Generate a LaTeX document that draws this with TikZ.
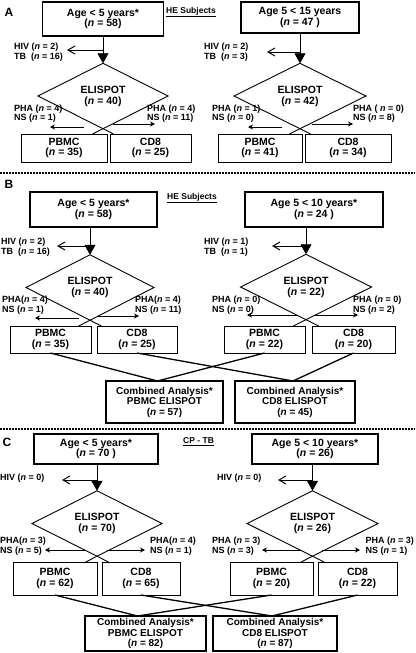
\documentclass[tikz,border=0pt]{standalone}
\usepackage{fontspec}
\setmainfont{Liberation Sans}
\usetikzlibrary{arrows.meta,shapes.geometric,calc}
\begin{document}
\begin{tikzpicture}[x=1pt,y=-1pt,
  agebox/.style={draw, line width=1.6pt, inner sep=0pt, outer sep=0pt, align=center, font=\bfseries\fontsize{10.5}{10.5}\selectfont},
  cellbox/.style={draw, line width=1pt, inner sep=0pt, outer sep=0pt, align=center, font=\bfseries\fontsize{10.5}{10.5}\selectfont},
  combox/.style={draw, line width=1.6pt, inner sep=0pt, outer sep=0pt, align=center, font=\bfseries\fontsize{10}{10.5}\selectfont},
  elis/.style={diamond, draw, line width=0.9pt, inner sep=0pt, outer sep=0pt, align=center, font=\bfseries\fontsize{10.5}{11}\selectfont},
  lab/.style={inner sep=0pt, align=left, anchor=west, font=\bfseries\fontsize{9}{9.5}\selectfont},
  flow/.style={line width=0.9pt, -{Triangle[length=10pt,width=11pt]}},
  excl/.style={line width=1pt, -{Straight Barb[length=7pt,width=8pt]}},
  splitline/.style={line width=0.9pt},
  sidearrow/.style={line width=0.8pt, -{Stealth[length=5pt,width=5pt]}},
  mergeline/.style={line width=1.3pt},
  dotsep/.style={line width=1.4pt, dash pattern=on 1.5pt off 1.5pt},
  panellabel/.style={inner sep=0pt, font=\bfseries\fontsize{12}{12}\selectfont},
  grouplabel/.style={inner sep=0pt, anchor=west, font=\bfseries\fontsize{8.5}{8.5}\selectfont}
]
\fill[white] (0,0) rectangle (415,653);
\useasboundingbox (0,0) rectangle (415,653);

% ---------------- Panel A ----------------
\node[panellabel] (pA) at (9,12) {A};
\node[grouplabel] (gA) at (166,12) {\underline{HE Subjects}};
\node[agebox, minimum width=121pt, minimum height=34pt] (ageA1) at (103,19) {Age < 5 years*\\(\textit{n} = 58)};
\node[agebox, minimum width=118pt, minimum height=31pt] (ageA2) at (300,17.5) {Age 5 < 15 years\\(\textit{n} = 47 )};
\node[elis, minimum width=130pt, minimum height=48pt] (dA1) at (103,96) {ELISPOT\\(\textit{n} = 40)};
\node[elis, minimum width=132pt, minimum height=48pt] (dA2) at (300,96) {ELISPOT\\(\textit{n} = 42)};
\node[cellbox, minimum width=86pt, minimum height=28pt] (pbA1) at (64,148) {PBMC\\(\textit{n} = 35)};
\node[cellbox, minimum width=81pt, minimum height=28pt] (cdA1) at (150.5,148) {CD8\\(\textit{n} = 25)};
\node[cellbox, minimum width=84pt, minimum height=28pt] (pbA2) at (260,148) {PBMC\\(\textit{n} = 41)};
\node[cellbox, minimum width=86pt, minimum height=28pt] (cdA2) at (348,148) {CD8\\(\textit{n} = 34)};

\node[lab] (hivA1) at (14,52) {HIV (\textit{n} = 2)\\TB\ \ (\textit{n} = 16)};
\node[lab] (hivA2) at (204,52) {HIV (\textit{n} = 2)\\TB\ \ (\textit{n} = 3)};
\node[lab] (phaA1l) at (14,113.5) {PHA (\textit{n} = 4)\\NS (\textit{n} = 1)};
\node[lab] (phaA1r) at (147,113.5) {PHA (\textit{n} = 4)\\NS (\textit{n} = 11)};
\node[lab] (phaA2l) at (212,113.5) {PHA (\textit{n} = 1)\\NS (\textit{n} = 0)};
\node[lab] (phaA2r) at (353,113.5) {PHA ( \textit{n} = 0)\\NS (\textit{n} = 8)};

\draw[flow] (ageA1.south) -- (dA1.north);
\draw[flow] (ageA2.south) -- (dA2.north);
\coordinate (xA1) at (67,50);
\coordinate (xA2) at (267,52);
\draw[excl] (xA1 -| ageA1.south) -- (xA1);
\draw[excl] (xA2 -| ageA2.south) -- (xA2);
\draw[splitline] (dA1.south) -- (intersection of dA1.west--dA1.south and cdA1.north west--cdA1.north east);
\draw[splitline] (dA1.south) -- (intersection of dA1.east--dA1.south and pbA1.north west--pbA1.north east);
\draw[splitline] (dA2.south) -- (intersection of dA2.west--dA2.south and cdA2.north west--cdA2.north east);
\draw[splitline] (dA2.south) -- (intersection of dA2.east--dA2.south and pbA2.north west--pbA2.north east);
\coordinate (oA1l) at (84,127);  \coordinate (sA1l) at (50,127);
\coordinate (oA1r) at (113,124); \coordinate (sA1r) at (155,124);
\coordinate (oA2l) at (282,127); \coordinate (sA2l) at (248,127);
\coordinate (oA2r) at (312,124); \coordinate (sA2r) at (353,124);
\draw[sidearrow] (oA1l) -- (sA1l);
\draw[sidearrow] (oA1r) -- (sA1r);
\draw[sidearrow] (oA2l) -- (sA2l);
\draw[sidearrow] (oA2r) -- (sA2r);

\coordinate (sepL1) at (0,173); \coordinate (sepR1) at (415,173);
\draw[dotsep] (sepL1) -- (sepR1);

% ---------------- Panel B ----------------
\node[panellabel] (pB) at (9,184) {B};
\node[grouplabel] (gB) at (167,198) {\underline{HE Subjects}};
\node[agebox, minimum width=127pt, minimum height=35pt] (ageB1) at (93.5,209.5) {Age < 5 years*\\(\textit{n} = 58)};
\node[agebox, minimum width=138pt, minimum height=35pt] (ageB2) at (314,209.5) {Age 5 < 10 years*\\(\textit{n} = 24 )};
\node[elis, minimum width=128pt, minimum height=51pt] (dB1) at (90,287.5) {ELISPOT\\(\textit{n} = 40)};
\node[elis, minimum width=131pt, minimum height=50pt] (dB2) at (306,287) {ELISPOT\\(\textit{n} = 22)};
\node[cellbox, minimum width=81pt, minimum height=27pt] (pbB1) at (50.5,339.5) {PBMC\\(\textit{n} = 35)};
\node[cellbox, minimum width=80pt, minimum height=27pt] (cdB1) at (137,339.5) {CD8\\(\textit{n} = 25)};
\node[cellbox, minimum width=81pt, minimum height=27pt] (pbB2) at (264.5,339.5) {PBMC\\(\textit{n} = 22)};
\node[cellbox, minimum width=83pt, minimum height=27pt] (cdB2) at (353.5,339.5) {CD8\\(\textit{n} = 20)};
\node[combox, minimum width=117pt, minimum height=42pt] (cbB1) at (164.5,402) {Combined Analysis*\\PBMC ELISPOT\\(\textit{n} = 57)};
\node[combox, minimum width=120pt, minimum height=42pt] (cbB2) at (295,402) {Combined Analysis*\\CD8 ELISPOT\\(\textit{n} = 45)};

\node[lab] (hivB1) at (1,247) {HIV (\textit{n} = 2)\\TB\ \ (\textit{n} = 16)};
\node[lab] (hivB2) at (204,247) {HIV (\textit{n} = 1)\\TB\ \ (\textit{n} = 1)};
\node[lab] (phaB1l) at (2,305) {PHA(\textit{n} = 4)\\NS (\textit{n} = 1)};
\node[lab] (phaB1r) at (135,305) {PHA(\textit{n} = 4)\\NS (\textit{n} = 11)};
\node[lab] (phaB2l) at (212,305) {PHA (\textit{n} = 0)\\NS (\textit{n} = 0)};
\node[lab] (phaB2r) at (353,305) {PHA (\textit{n} = 0)\\NS (\textit{n} = 2)};

\draw[flow] (dB1.north |- ageB1.south) -- (dB1.north);
\draw[flow] (dB2.north |- ageB2.south) -- (dB2.north);
\coordinate (xB1) at (57,246);
\coordinate (xB2) at (272,246);
\draw[excl] (xB1 -| dB1.north) -- (xB1);
\draw[excl] (xB2 -| dB2.north) -- (xB2);
\draw[splitline] (dB1.south) -- (intersection of dB1.west--dB1.south and cdB1.north west--cdB1.north east);
\draw[splitline] (dB1.south) -- (intersection of dB1.east--dB1.south and pbB1.north west--pbB1.north east);
\draw[splitline] (dB2.south) -- (intersection of dB2.west--dB2.south and cdB2.north west--cdB2.north east);
\draw[splitline] (dB2.south) -- (intersection of dB2.east--dB2.south and pbB2.north west--pbB2.north east);
\coordinate (oB1l) at (79,318);  \coordinate (sB1l) at (35,318);
\coordinate (oB1r) at (98,316);  \coordinate (sB1r) at (139,316);
\coordinate (oB2l) at (298,315); \coordinate (sB2l) at (247,315);
\coordinate (oB2r) at (314,315); \coordinate (sB2r) at (358,315);
\draw[sidearrow] (oB1l) -- (sB1l);
\draw[sidearrow] (oB1r) -- (sB1r);
\draw[sidearrow] (oB2l) -- (sB2l);
\draw[sidearrow] (oB2r) -- (sB2r);

\coordinate (mB1) at ($(cbB1.north)+(-7,0)$);
\coordinate (mB2) at ($(cbB2.north)+(-2,0)$);
\draw[mergeline] (pbB1.south) -- (mB1);
\draw[mergeline] (pbB2.south) -- (mB1);
\draw[mergeline] (cdB1.south) -- (mB2);
\draw[mergeline] (cdB2.south) -- (mB2);

\coordinate (sepL2) at (0,429); \coordinate (sepR2) at (415,429);
\draw[dotsep] (sepL2) -- (sepR2);

% ---------------- Panel C ----------------
\node[panellabel] (pC) at (7,442) {C};
\node[grouplabel] (gC) at (183,442) {\underline{CP - TB}};
\node[agebox, minimum width=124pt, minimum height=30pt] (ageC1) at (96,449) {Age < 5 years*\\(\textit{n} = 70 )};
\node[agebox, minimum width=126pt, minimum height=30pt] (ageC2) at (315,449) {Age 5 < 10 years*\\(\textit{n} = 26)};
\node[elis, minimum width=130pt, minimum height=47pt] (dC1) at (97,523.5) {ELISPOT\\(\textit{n} = 70)};
\node[elis, minimum width=131pt, minimum height=47pt] (dC2) at (312.5,523.5) {ELISPOT\\(\textit{n} = 26)};
\node[cellbox, minimum width=84pt, minimum height=33pt] (pbC1) at (55,578.5) {PBMC\\(\textit{n} = 62)};
\node[cellbox, minimum width=78pt, minimum height=33pt] (cdC1) at (141,578.5) {CD8\\(\textit{n} = 65)};
\node[cellbox, minimum width=83pt, minimum height=33pt] (pbC2) at (271.5,578.5) {PBMC\\(\textit{n} = 20)};
\node[cellbox, minimum width=79pt, minimum height=33pt] (cdC2) at (357.5,578.5) {CD8\\(\textit{n} = 22)};
\node[combox, minimum width=121pt, minimum height=35pt] (cbC1) at (145.5,633.5) {Combined Analysis*\\PBMC ELISPOT\\(\textit{n} = 82)};
\node[combox, minimum width=124pt, minimum height=35pt] (cbC2) at (275,633.5) {Combined Analysis*\\CD8 ELISPOT\\(\textit{n} = 87)};

\node[lab] (hivC1) at (0,478) {HIV (\textit{n} = 0)};
\node[lab] (hivC2) at (217,478) {HIV (\textit{n} = 0)};
\node[lab] (phaC1l) at (0,546) {PHA(\textit{n} = 3)\\NS (\textit{n} = 5)};
\node[lab] (phaC1r) at (150,546) {PHA(\textit{n} = 4)\\NS (\textit{n} = 1)};
\node[lab] (phaC2l) at (212,546) {PHA (\textit{n} = 3)\\NS (\textit{n} = 3)};
\node[lab, anchor=east] (phaC2r) at (414,546) {PHA (\textit{n} = 3)\\NS (\textit{n} = 1)};

\draw[flow] (dC1.north |- ageC1.south) -- (dC1.north);
\draw[flow] (dC2.north |- ageC2.south) -- (dC2.north);
\coordinate (xC1) at (62,480);
\coordinate (xC2) at (278,480);
\draw[excl] (xC1 -| dC1.north) -- (xC1);
\draw[excl] (xC2 -| dC2.north) -- (xC2);
\draw[splitline] (dC1.south) -- (intersection of dC1.west--dC1.south and cdC1.north west--cdC1.north east);
\draw[splitline] (dC1.south) -- (intersection of dC1.east--dC1.south and pbC1.north west--pbC1.north east);
\draw[splitline] (dC2.south) -- (intersection of dC2.west--dC2.south and cdC2.north west--cdC2.north east);
\draw[splitline] (dC2.south) -- (intersection of dC2.east--dC2.south and pbC2.north west--pbC2.north east);
\coordinate (oC1l) at (86,550);  \coordinate (sC1l) at (45,550);
\coordinate (oC1r) at (107,550); \coordinate (sC1r) at (145,550);
\coordinate (oC2l) at (302,550); \coordinate (sC2l) at (262,550);
\coordinate (oC2r) at (322,550); \coordinate (sC2r) at (360,550);
\draw[sidearrow] (oC1l) -- (sC1l);
\draw[sidearrow] (oC1r) -- (sC1r);
\draw[sidearrow] (oC2l) -- (sC2l);
\draw[sidearrow] (oC2r) -- (sC2r);

\coordinate (mC1) at ($(cbC1.north)+(-8,0)$);
\coordinate (mC2) at ($(cbC2.north)+(-3,0)$);
\draw[mergeline] (pbC1.south) -- (mC1);
\draw[mergeline] (pbC2.south) -- (mC1);
\draw[mergeline] (cdC1.south) -- (mC2);
\draw[mergeline] (cdC2.south) -- (mC2);
\end{tikzpicture}
\end{document}
